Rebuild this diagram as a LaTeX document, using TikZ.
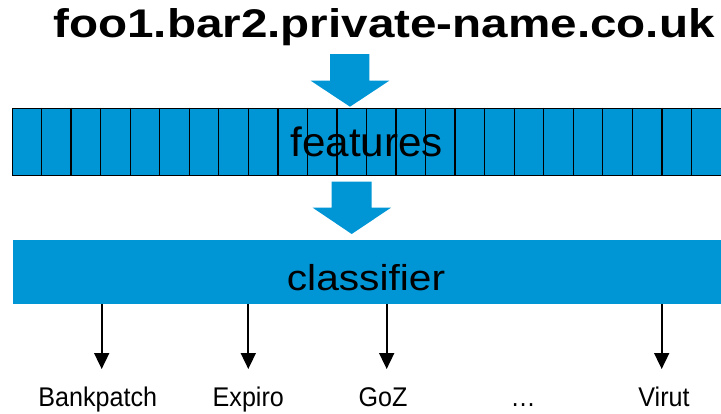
\documentclass[tikz,border=0pt]{standalone}
\usepackage{fontspec}
\setmainfont{Liberation Sans}
\usetikzlibrary{arrows.meta}
\definecolor{barblue}{HTML}{0096D6}
\newcommand{\narrowtxt}[1]{\scalebox{0.93}[1]{#1}}
\begin{document}
\begin{tikzpicture}[x=1pt,y=-1pt,
  txt/.style={anchor=base, inner sep=0pt},
  lbl/.style={txt, font=\fontsize{27}{32}\selectfont},
  gridline/.style={line width=1.3pt, black},
  outarrow/.style={-{Triangle[width=15pt,length=16pt]}, line width=1.7pt},
  bigarrow/.style={fill=barblue}]
\useasboundingbox (0,0) rectangle (721,413);

% domain name on top
\node[txt, font=\fontsize{40}{48}\selectfont\bfseries] (title) at (384,37)
  {\scalebox{1.19}[1]{foo1.bar2.private-name.co.uk}};

% feature vector: a blue bar split into 24 cells
\node[fill=barblue, draw, line width=1.3pt, minimum width=709pt, minimum height=67.3pt,
      inner sep=0pt, anchor=north west] (featbar) at (12,107.7) {};
\foreach \i in {1,...,23}
  \draw[gridline] ({12+\i*29.54},107.7) -- ++(0,67.3);
\node[txt, font=\fontsize{41}{48}\selectfont] (feat) at (366.7,156.7)
  {\scalebox{1.03}[1]{features}};

% classifier bar
\node[fill=barblue, minimum width=708pt, minimum height=64pt,
      inner sep=0pt, anchor=north west] (clsbar) at (13,240) {};
\node[txt, font=\fontsize{36}{44}\selectfont] (cls) at (366,290)
  {\scalebox{1.13}[1]{classifier}};

% broad blue arrows between the stages
\fill[bigarrow] (330,54) -- (369.3,54) -- (369.3,80.7) -- (389.3,80.7)
  -- (350,106.7) -- (310.7,80.7) -- (330,80.7) -- cycle;
\fill[bigarrow] (331.7,181.7) -- (371.7,181.7) -- (371.7,207.7) -- (391,207.7)
  -- (351.7,234) -- (312.7,207.7) -- (331.7,207.7) -- cycle;

% output classes
\node[lbl] (l1) at (97.8,406.5) {\narrowtxt{Bankpatch}};
\node[lbl] (l2) at (248.3,406.5) {\narrowtxt{Expiro}};
\node[lbl] (l3) at (383,406.5) {\narrowtxt{GoZ}};
\node[lbl] (l4) at (523.3,406.5) {\narrowtxt{…}};
\node[lbl] (l5) at (664,406.5) {\narrowtxt{Virut}};

\coordinate (t1) at (101.7,369);
\coordinate (t2) at (248.3,369);
\coordinate (t3) at (386.7,369);
\coordinate (t5) at (661.7,369);
\foreach \t in {t1,t2,t3,t5}
  \draw[outarrow] (clsbar.south -| \t) -- (\t);
\end{tikzpicture}
\end{document}
